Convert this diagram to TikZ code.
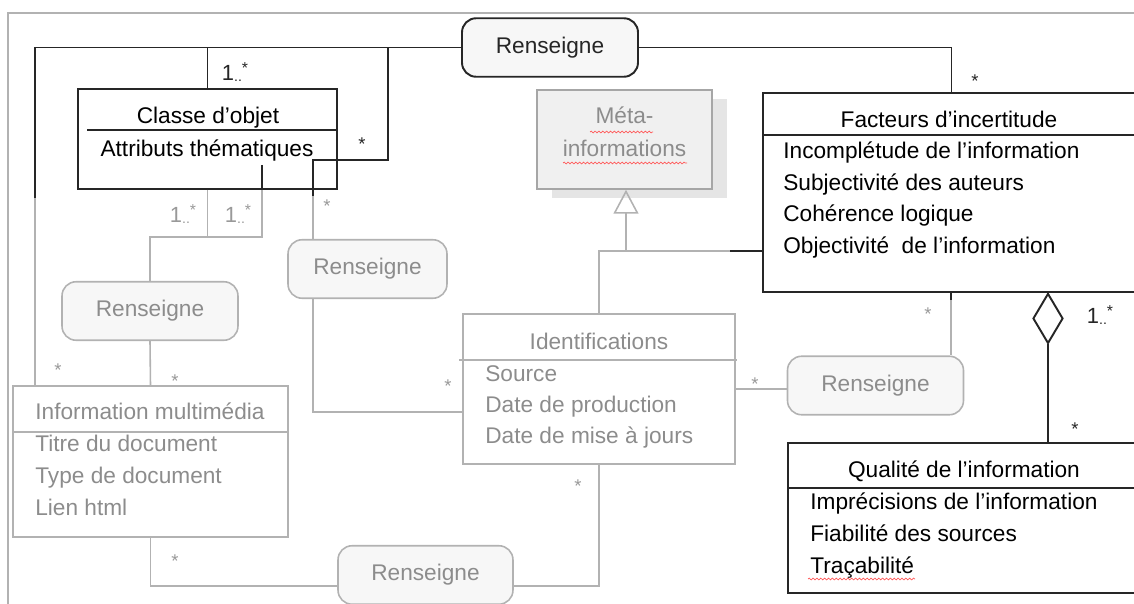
\documentclass[tikz,border=0pt]{standalone}
\usepackage{fontspec}
\setmainfont{Liberation Sans}
\usetikzlibrary{arrows.meta,shapes.geometric,calc,decorations.pathmorphing}
\newcommand\oneplus{1\raisebox{-1pt}{\fontsize{8}{8}\selectfont..}\raisebox{4pt}{\fontsize{9}{9}\selectfont*}}

\begin{document}
\begin{tikzpicture}[x=0.02cm,y=-0.02cm,every node/.style={font=\fontsize{12.9}{15}\selectfont},
    blk/.style={draw=black!85,line width=1.1pt},
    gry/.style={draw=black!30,line width=0.9pt},
    cls/.style={rectangle,inner sep=0pt},
    ren/.style={rounded corners=8pt,fill=black!3,inner sep=0pt,minimum width=3.52cm,minimum height=1.17cm},
    attr/.style={anchor=base west,inner sep=0pt},
    ttl/.style={anchor=base,inner sep=0pt},
    mult/.style={inner sep=0pt,font=\fontsize{10.5}{11}\selectfont},
    wavy/.style={draw=red!65,line width=0.4pt,decorate,decoration={snake,amplitude=0.5pt,segment length=2.2pt}}]
  \useasboundingbox (0,0) rectangle (1134,604);
  \clip (0,0) rectangle (1134,604);
  \draw[black!30,line width=1pt] (8,604) -- (8,13) -- (1134,13);

  % classes
  \node[cls,blk,minimum width=5.18cm,minimum height=2cm] (cl) at (207.5,139) {};
  \fill[black!10] (552,99) rectangle (727,198);
  \node[cls,draw=black!35,line width=0.9pt,fill=black!6,minimum width=3.5cm,minimum height=1.98cm] (meta) at (624.5,139.5) {};
  \node[cls,blk,minimum width=7.54cm,minimum height=3.98cm] (fac) at (951.5,192.5) {};
  \node[cls,gry,minimum width=5.5cm,minimum height=3.02cm] (info) at (150.5,461.5) {};
  \node[cls,gry,minimum width=5.44cm,minimum height=3cm] (ident) at (599,389) {};
  \node[cls,blk,minimum width=7.04cm,minimum height=3cm] (qual) at (964,518) {};

  \draw[blk] ($(cl.north west)+(10,42)$) -- ($(cl.north east)+(0,42)$);
  \draw[blk] ($(fac.north west)+(0,43)$) -- ($(fac.north east)+(0,43)$);
  \draw[gry] ($(info.north west)+(0,47)$) -- ($(info.north east)+(0,47)$);
  \draw[gry] ($(ident.north west)+(-3,47)$) -- ($(ident.north east)+(1,47)$);
  \draw[blk] ($(qual.north west)+(0,46)$) -- ($(qual.north east)+(0,46)$);

  \node[ttl] (clt) at (208,124) {Classe d’objet};
  \node[ttl] (cla) at (207,157) {Attributs thématiques};
  \node[ttl,text=black!45] (mt1) at (624.5,124) {Méta-};
  \node[ttl,text=black!45] (mt2) at (624.5,157) {informations};
  \node[ttl] (fact) at (949,128) {Facteurs d’incertitude};
  \foreach \t [count=\i] in {Incomplétude de l’information,Subjectivité des auteurs,Cohérence logique,Objectivité\ \ de l’information}
    \node[attr] (fa\i) at (783,127.5+31.5*\i) {\t};
  \node[attr,text=black!45] (inft) at (35,420) {Information multimédia};
  \foreach \t [count=\i] in {Titre du document,Type de document,Lien html}
    \node[attr,text=black!45] (in\i) at (35,420+32*\i) {\t};
  \node[ttl,text=black!45] (idt) at (599,350) {Identifications};
  \foreach \t [count=\i] in {Source,Date de production,Date de mise à jours}
    \node[attr,text=black!45] (id\i) at (485,351+31*\i) {\t};
  \node[ttl] (qt) at (964,478) {Qualité de l’information};
  \foreach \t [count=\i] in {Imprécisions de l’information,Fiabilité des sources,Traçabilité}
    \node[attr] (qa\i) at (810,478+31.7*\i) {\t};
  \draw[wavy] (590,132) -- (653,132);
  \draw[wavy] (563,163) -- (687,163);
  \draw[wavy] (808,579) -- (915,579);

  % associations
  \node[ren,blk,text=black!85] (r0) at (550,47.5) {Renseigne};
  \node[ren,gry,text=black!45] (r1) at (150,311) {Renseigne};
  \node[ren,gry,text=black!45,minimum width=3.18cm] (r2) at (367.5,269) {Renseigne};
  \node[ren,gry,text=black!45,minimum width=3.5cm] (r3) at (425.5,575) {Renseigne};
  \node[ren,gry,text=black!45] (r4) at (875.5,385.5) {Renseigne};
  \node[diamond,blk,fill=white,inner sep=0pt,minimum width=0.6cm,minimum height=1cm,anchor=north] (dia) at (1048,292.5) {};

  \coordinate (lf) at (35,198);
  \coordinate (k1) at (388,47.5);
  \coordinate (k2) at (313,196);
  \coordinate (k3) at (262,165);
  \coordinate (h1) at (150,237);
  \coordinate (gen) at (626,251);
  \coordinate (k4) at (951,300);

  \draw[blk] (r0.west) -| (cl.north);
  \draw[blk] (r0.west) -| (lf);
  \draw[gry] (lf) -- (lf |- info.north);
  \draw[blk] (k1) -- (388,160) -| (k2);
  \draw[gry] (k2) -- (k2 |- r2.north);
  \draw[blk] (k3) -- (k3 |- cl.south);
  \draw[gry] (k3 |- cl.south) |- (h1) -- (r1.north);
  \draw[gry] (cl.south) -- (cl.south |- h1);
  \draw[gry] (r1.south) -- (info.north);
  \draw[gry] (info.south) |- ([yshift=-0.22cm]r3.west);
  \draw[gry] ([yshift=-0.22cm]r3.east) -| (ident.south);
  \draw[gry] (r2.south -| k2) |- ([yshift=-0.46cm]ident.west);
  \draw[gry] (ident.north) |- (gen) -- (730,251);
  \draw[blk] (730,251) -- (fac.west |- gen);
  \draw[gry,-{Triangle[open,length=13.6pt,width=14.2pt]}] (gen) -- (gen |- meta.south);
  \draw[gry] (ident.east) -- (ident.east -| r4.west);
  \draw[gry] (r4.north -| k4) -- (k4);
  \draw[blk] (k4) -- (k4 |- fac.south);
  \draw[blk] (r0.east) -| (fac.north);
  \draw[blk] (dia.south) -- (dia.south |- qual.north);

  % multiplicities
  \node[mult,font=\fontsize{12.5}{12}\selectfont,text=black!85] (m1) at (235,72) {\oneplus};
  \node[mult,text=black!85] (m2) at (362,144) {*};
  \node[mult,text=black!85] (m3) at (975,81) {*};
  \node[mult,font=\fontsize{12.5}{12}\selectfont,text=black!40] (m4) at (183,214) {\oneplus};
  \node[mult,font=\fontsize{12.5}{12}\selectfont,text=black!40] (m5) at (238,214) {\oneplus};
  \node[mult,text=black!40] (m6) at (327,206) {*};
  \node[mult,text=black!40] (m7) at (58,370) {*};
  \node[mult,text=black!40] (m8) at (175,381) {*};
  \node[mult,text=black!40] (m9) at (448,386) {*};
  \node[mult,text=black!40] (m10) at (175,561) {*};
  \node[mult,text=black!40] (m11) at (578,486) {*};
  \node[mult,text=black!40] (m12) at (755,384) {*};
  \node[mult,text=black!40] (m13) at (928,314) {*};
  \node[mult,font=\fontsize{12.5}{12}\selectfont,text=black!85] (m14) at (1100,315) {\oneplus};
  \node[mult,text=black!85] (m15) at (1075,429) {*};
\end{tikzpicture}
\end{document}
